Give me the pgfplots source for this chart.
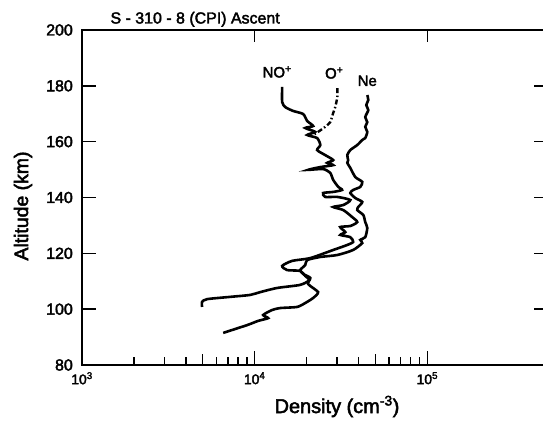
\documentclass[border=0pt]{standalone}
\usepackage{fontspec}
\setmainfont{Liberation Sans}[FakeBold=2.5]
\usepackage{pgfplots}
\pgfplotsset{compat=1.18}
\begin{document}
\begin{tikzpicture}
\begin{axis}[
  scale only axis, width=466bp, height=335bp,
  xmode=log, xmin=1000, xmax=500000, ymin=80, ymax=200,
  ytick={80,100,...,200},
  xtick={1000,10000,100000},
  xticklabels={10\textsuperscript{3},10\textsuperscript{4},10\textsuperscript{5}},
  xtick pos=bottom,
  yticklabel pos=left,
  tick align=inside,
  major tick length=14bp, minor tick length=8bp,
  every tick/.style={black, line width=1.5bp},
  axis line style={line width=1.8bp},
  /pgf/number format/assume math mode=true,
  yticklabel style={font=\fontsize{16}{16}\selectfont, anchor=east, inner sep=0pt, xshift=-9bp},
  xticklabel style={font=\fontsize{14}{14}\selectfont, anchor=north, inner sep=0pt, yshift=-7bp},
  extra x ticks={5000,50000},
  extra x tick labels={},
  extra x tick style={major tick length=11bp},
  clip=false,
]
% NO+
\addplot[black, line width=2.6bp, smooth, tension=0.4] coordinates {
(1.443e4,179.6) (1.443e4,174.2) (1.503e4,172.4) (1.671e4,171.0) (1.910e4,169.9)
(2.015e4,167.4) (2.18e4,165.6) (1.963e4,164.9) (2.24e4,163.5) (2.015e4,162.4)
(2.30e4,161.3) (2.40e4,158.8) (2.30e4,157.0) (2.56e4,155.2) (2.85e4,153.4)
(2.63e4,152.4) (2.85e4,151.6) (2.40e4,150.9) (2.04e4,149.9) (2.49e4,150.2)
(2.74e4,148.8) (2.85e4,146.3) (3.05e4,143.8) (3.21e4,142.7) (2.85e4,142.0)
(2.49e4,141.6) (2.56e4,140.2) (3.01e4,140.2) (3.58e4,139.1) (3.26e4,137.3)
(2.85e4,136.6) (3.26e4,135.5) (3.67e4,133.0) (3.93e4,131.2) (3.58e4,129.8)
(3.13e4,129.4) (3.35e4,127.6) (3.13e4,126.6) (3.58e4,125.8) (3.72e4,124.1)
(3.44e4,123.0) (2.85e4,121.2) (2.10e4,118.3) (1.65e4,117.3) (1.443e4,115.5)
(1.542e4,114.0) (1.835e4,113.7) (1.963e4,111.9) (2.07e4,110.4) (1.835e4,108.7)
(1.35e4,107.6) (1.076e4,106.1) (9.42e3,105.1) (7.21e3,104.4) (5.31e3,103.6)
(4.96e3,102.6) (4.96e3,100.8)
};
% Ne
\addplot[black, line width=2.6bp, smooth, tension=0.4] coordinates {
(4.49e4,176.7) (4.55e4,174.9) (4.43e4,173.1) (4.55e4,171.3) (4.37e4,168.8)
(4.49e4,167.0) (4.37e4,165.3) (4.49e4,163.5) (4.37e4,161.3) (4.20e4,160.6)
(3.93e4,158.8) (3.58e4,157.0) (3.44e4,155.2) (3.48e4,153.4) (3.44e4,152.4)
(3.58e4,150.6) (3.83e4,147.3) (4.20e4,145.6) (4.09e4,143.8) (3.72e4,142.7)
(3.58e4,141.6) (3.83e4,139.8) (4.20e4,138.4) (3.98e4,136.6) (3.93e4,135.5)
(4.26e4,133.7) (4.37e4,131.2) (4.49e4,129.1) (4.37e4,125.8) (4.09e4,124.8)
(4.20e4,123.7) (3.72e4,121.2) (3.01e4,119.4) (2.40e4,118.7) (2.015e4,117.6)
(1.963e4,115.8) (1.835e4,114.0) (1.910e4,112.6) (2.10e4,111.2) (2.04e4,109.0)
(2.33e4,106.1) (2.18e4,104.0) (1.963e4,102.2) (1.762e4,100.8) (1.405e4,100.4)
(1.262e4,99.7) (1.120e4,97.9) (1.197e4,96.8) (1.047e4,95.8) (9.05e3,94.3)
(6.57e3,91.5)
};
% O+
\addplot[black, line width=2.4bp, smooth, tension=0.4, dash pattern=on 5bp off 2.5bp on 1.5bp off 2.5bp] coordinates {
(3.01e4,179.2) (3.01e4,176.0) (2.93e4,172.4) (2.85e4,170.3) (2.74e4,167.0)
(2.56e4,165.3) (2.33e4,163.5) (2.18e4,162.4)
};
\node[font=\fontsize{15}{15}\selectfont] at (axis cs:1.35e4,185) {NO\textsuperscript{+}};
\node[font=\fontsize{15}{15}\selectfont] at (axis cs:2.89e4,184.6) {O\textsuperscript{+}};
\node[font=\fontsize{15}{15}\selectfont] at (axis cs:4.49e4,181.8) {Ne};
\draw[line width=1.5bp] (axis cs:10000,200) -- (axis cs:10000,195.7);
\draw[line width=1.5bp] (axis cs:100000,200) -- (axis cs:100000,195.7);
\end{axis}
\node[anchor=base west, font=\fontsize{16}{16}\selectfont] at (25bp,341.5bp) {S - 310 - 8 (CPI) Ascent};
\node[rotate=90, font=\fontsize{19.5}{19.5}\selectfont] at (-59bp,159bp) {Altitude (km)};
\node[anchor=base, font=\fontsize{20}{20}\selectfont] at (255bp,-48bp) {Density (cm\textsuperscript{-3})};
\pgfresetboundingbox
\path[use as bounding box] (-82bp,-56bp) rectangle (461bp,365bp);
\end{tikzpicture}
\end{document}
